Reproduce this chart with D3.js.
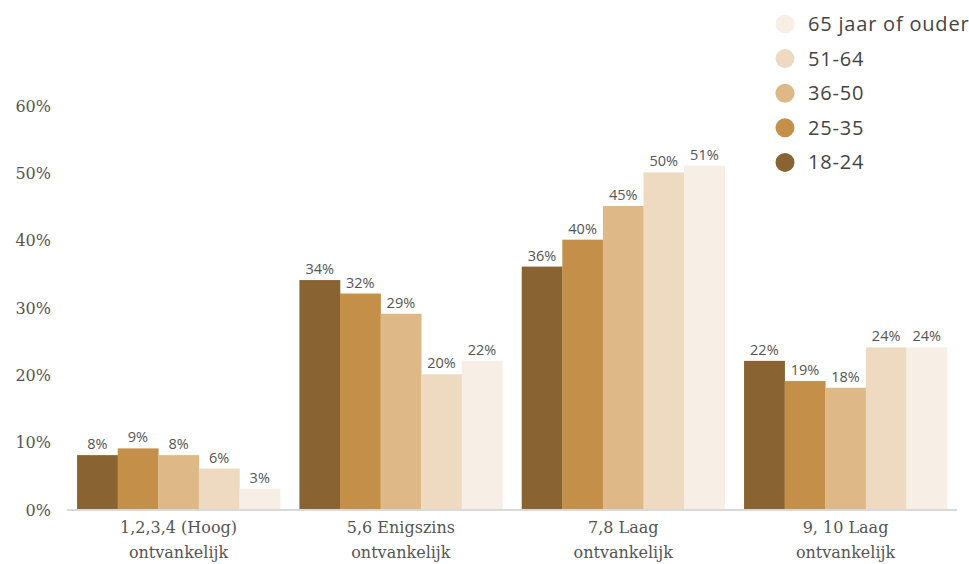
<!DOCTYPE html>
<html><head><meta charset="utf-8">
<script src="https://cdn.jsdelivr.net/npm/d3@7"></script>
<style>body{margin:0;background:#fff}</style>
</head><body>
<svg id="c" width="969" height="564"></svg>
<script>
const categories = [["1,2,3,4 (Hoog)","ontvankelijk"],["5,6 Enigszins","ontvankelijk"],["7,8 Laag","ontvankelijk"],["9, 10 Laag","ontvankelijk"]];
const seriesNames = ["18-24","25-35","36-50","51-64","65 jaar of ouder"];
const s1824 = [8,34,36,22];
const s2535 = [9,32,40,19];
const s3650 = [8,29,45,18];
const s5164 = [6,20,50,24];
const s65 = [3,22,51,24];
const colors = ["#8a6332","#c48f48","#dfb887","#eedac0","#f7efe5"];
const yTicks = [0,10,20,30,40,50,60];

const series = [s1824,s2535,s3650,s5164,s65];
const svg = d3.select("#c");
const y = d3.scaleLinear().domain([0,60]).range([509,105]);
const x0 = d3.scaleBand().domain(d3.range(categories.length)).range([67.4,956.7]).paddingInner(0.087).paddingOuter(0.0435);
const x1 = d3.scaleBand().domain(d3.range(seriesNames.length)).range([0,x0.bandwidth()]);

// y tick labels
svg.append("g").selectAll("text").data(yTicks).join("text")
  .attr("x",51).attr("y",d=>y(d)+1).attr("dy","0.35em").attr("text-anchor","end")
  .attr("font-family","DejaVu Serif, serif").attr("font-size",16).attr("fill","#555")
  .text(d=>d+"%");

// bars
const g = svg.append("g");
categories.forEach((c,ci)=>{
  series.forEach((s,si)=>{
    g.append("rect").attr("x",x0(ci)+x1(si)).attr("width",x1.bandwidth()+0.3)
      .attr("y",y(s[ci])).attr("height",y(0)-y(s[ci])).attr("fill",colors[si]);
    g.append("text").attr("x",x0(ci)+x1(si)+x1.bandwidth()/2).attr("y",y(s[ci])-6)
      .attr("text-anchor","middle").attr("font-family","Open Sans, sans-serif").attr("font-size",14.5)
      .attr("fill","#555").text(s[ci]+"%");
  });
});

// axis line
svg.append("line").attr("x1",67).attr("x2",957).attr("y1",y(0)+1).attr("y2",y(0)+1)
  .attr("stroke","#d9d9d9").attr("stroke-width",2);

// x labels
categories.forEach((c,ci)=>{
  const t = svg.append("text").attr("x",x0(ci)+x0.bandwidth()/2).attr("y",533)
    .attr("text-anchor","middle").attr("font-family","DejaVu Serif, serif").attr("font-size",16).attr("fill","#555");
  c.forEach((line,li)=>t.append("tspan").attr("x",x0(ci)+x0.bandwidth()/2).attr("dy",li?25:0).text(line));
});

// legend
const legendOrder = [4,3,2,1,0];
const lg = svg.append("g");
legendOrder.forEach((si,i)=>{
  const yy = 24 + i*34.6;
  lg.append("circle").attr("cx",785).attr("cy",yy).attr("r",9.5).attr("fill",colors[si]);
  lg.append("text").attr("x",808).attr("y",yy).attr("dy","0.35em")
    .attr("font-family","Open Sans, sans-serif").attr("font-size",20).attr("letter-spacing",0.8).attr("fill","#444")
    .text(seriesNames[si]);
});
</script>
</body></html>
